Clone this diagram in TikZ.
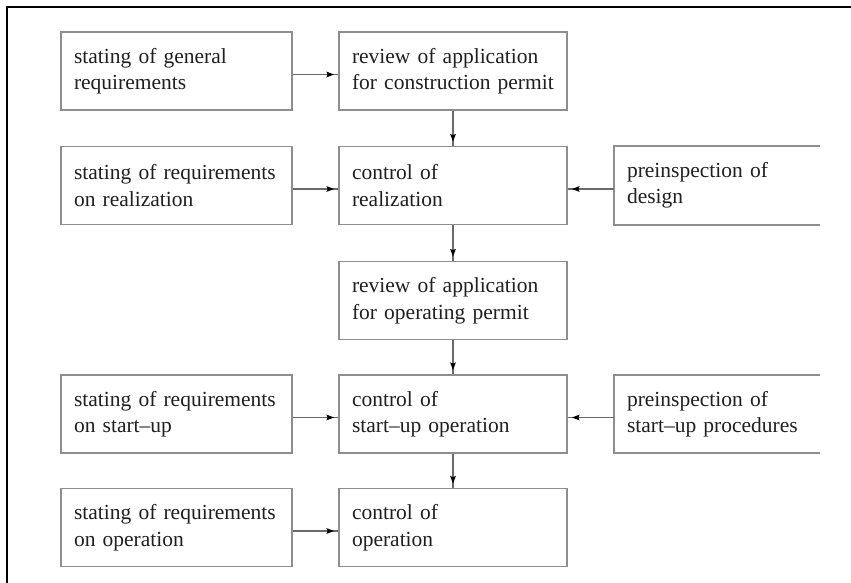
\documentclass[tikz,border=0pt]{standalone}
\usepackage{fontspec}
\setmainfont{Liberation Serif}
\usetikzlibrary{arrows.meta}
\definecolor{boxgray}{HTML}{8E8E8E}
\definecolor{linegray}{HTML}{6A6A6A}
\begin{document}
\begin{tikzpicture}[x=1pt,y=-1pt,
  boxbase/.style={inner xsep=13pt, inner ysep=0pt, minimum height=78pt,
    align=left, font=\fontsize{21.5}{26.5}\selectfont, text=black!88},
  box/.style={boxbase, draw=boxgray, line width=1.8pt},
  openbox/.style={boxbase},
  edge/.style={draw=boxgray, line width=1.8pt},
  conn/.style={draw=linegray, line width=1.3pt,
    postaction={draw=linegray, line width=1.3pt,
      -{Stealth[length=7.5pt,width=5.5pt,inset=1pt,color=black]}, shorten >=4pt}}]
\useasboundingbox (0,0) rectangle (851,583);
% frame
\coordinate (fa) at (7,583);
\coordinate (fb) at (7,7);
\coordinate (fc) at (851,7);
\draw[black, line width=1.2pt] (fa) -- (fb) -- (fc);
% left column
\node[box, text width=205pt] (l1) at (176.5,71) {stating of general\\requirements};
\node[box, text width=205pt] (l2) at (176.5,185.5) {stating of requirements\\on realization};
\node[box, text width=205pt] (l4) at (176.5,414) {stating of requirements\\on start\textendash up};
\node[box, text width=205pt] (l5) at (176.5,527.5) {stating of requirements\\on operation};
% middle column
\node[box, text width=202pt] (m1) at (453,71) {review of application\\for construction permit};
\node[box, text width=202pt] (m2) at (453,185.5) {control of\\realization};
\node[box, text width=202pt] (m3) at (453,300.5) {review of application\\for operating permit};
\node[box, text width=202pt] (m4) at (453,414) {control of\\start\textendash up operation};
\node[box, text width=202pt] (m5) at (453,527.5) {control of\\operation};
% right column (cut at the right)
\node[openbox, text width=180pt] (r2) at (717,185.5) {preinspection of\\design};
\node[openbox, text width=180pt] (r4) at (717,414) {preinspection of\\start\textendash up procedures};
\draw[edge] (r2.north east) -- (r2.north west) -- (r2.south west) -- (r2.south east);
\draw[edge] (r4.north east) -- (r4.north west) -- (r4.south west) -- (r4.south east);
% connectors
\draw[conn] ([yshift=-3.5pt]l1.east) -- ([yshift=-3.5pt]m1.west);
\draw[conn] ([yshift=-3.5pt]l2.east) -- ([yshift=-3.5pt]m2.west);
\draw[conn] ([yshift=-3.5pt]l4.east) -- ([yshift=-3.5pt]m4.west);
\draw[conn] ([yshift=-3.5pt]l5.east) -- ([yshift=-3.5pt]m5.west);
\draw[conn] ([yshift=-3.5pt]r2.west) -- ([yshift=-3.5pt]m2.east);
\draw[conn] ([yshift=-3.5pt]r4.west) -- ([yshift=-3.5pt]m4.east);
\draw[conn] (m1) -- (m2);
\draw[conn] (m2) -- (m3);
\draw[conn] (m3) -- (m4);
\draw[conn] (m4) -- (m5);
\end{tikzpicture}
\end{document}
